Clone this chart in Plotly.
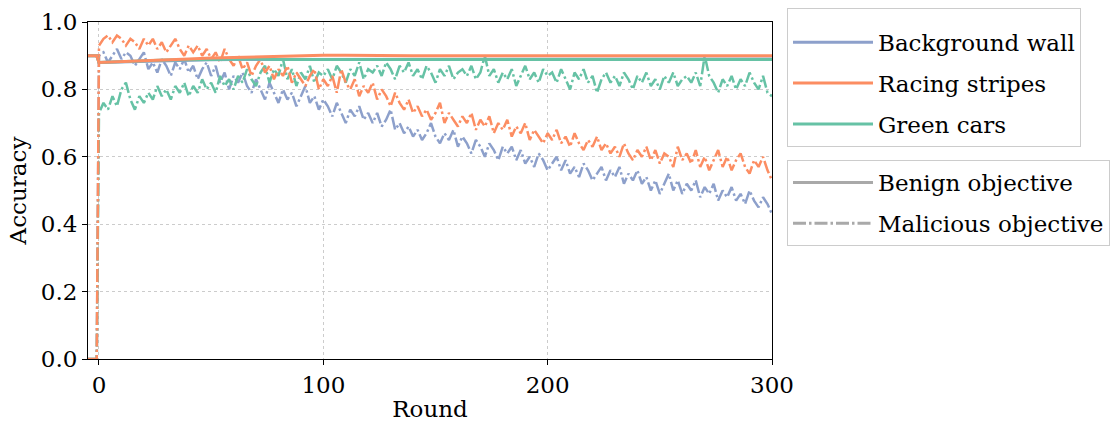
import plotly.graph_objects as go

# Rounds of the attack (malicious metric sampled every 2 rounds, preceded by pre-attack rounds)
pre_rounds = [-5, -1]
mal_rounds = list(range(0, 301, 2))
benign_rounds = [-5, -1, 0] + list(range(10, 301, 10))

# Malicious objective accuracy per attack
mal_background_wall = [
    0.90, 0.91, 0.88, 0.90, 0.92, 0.89, 0.91, 0.90, 0.87, 0.89, 0.91,
    0.86, 0.88, 0.85, 0.89, 0.87, 0.84, 0.88, 0.86, 0.89, 0.85,
    0.87, 0.83, 0.86, 0.88, 0.84, 0.87, 0.82, 0.85, 0.80, 0.84,
    0.82, 0.85, 0.81, 0.79, 0.83, 0.80, 0.77, 0.82, 0.79, 0.76,
    0.80, 0.77, 0.79, 0.75, 0.78, 0.81, 0.76, 0.78, 0.74, 0.77,
    0.75, 0.72, 0.76, 0.73, 0.70, 0.74, 0.72, 0.75, 0.71, 0.73,
    0.70, 0.73, 0.69, 0.71, 0.74, 0.68, 0.70, 0.67, 0.69, 0.66,
    0.68, 0.65, 0.67, 0.70, 0.66, 0.64, 0.67, 0.65, 0.68, 0.63,
    0.66, 0.64, 0.61, 0.65, 0.63, 0.60, 0.64, 0.62, 0.59, 0.63,
    0.61, 0.63, 0.59, 0.62, 0.58, 0.60, 0.57, 0.61, 0.59, 0.56,
    0.58, 0.60, 0.56, 0.59, 0.55, 0.57, 0.54, 0.58, 0.56, 0.53,
    0.55, 0.57, 0.53, 0.56, 0.54, 0.57, 0.52, 0.55, 0.53, 0.56,
    0.52, 0.54, 0.50, 0.53, 0.49, 0.52, 0.55, 0.50, 0.53, 0.49,
    0.52, 0.50, 0.53, 0.48, 0.51, 0.49, 0.52, 0.47, 0.50, 0.48,
    0.51, 0.47, 0.49, 0.46, 0.50, 0.47, 0.45, 0.48, 0.46, 0.43,
]
mal_racing_stripes = [
    0.93, 0.95, 0.96, 0.94, 0.96, 0.95, 0.93, 0.95, 0.94, 0.92, 0.95,
    0.93, 0.95, 0.92, 0.94, 0.91, 0.93, 0.95, 0.92, 0.90, 0.93,
    0.91, 0.93, 0.90, 0.92, 0.89, 0.91, 0.88, 0.92, 0.89, 0.87,
    0.90, 0.86, 0.88, 0.84, 0.87, 0.89, 0.85, 0.87, 0.83, 0.86,
    0.84, 0.87, 0.82, 0.85, 0.83, 0.81, 0.84, 0.86, 0.80, 0.83,
    0.81, 0.84, 0.79, 0.86, 0.82, 0.80, 0.83, 0.78, 0.81, 0.79,
    0.82, 0.77, 0.80, 0.78, 0.75, 0.79, 0.76, 0.74, 0.77, 0.73,
    0.75, 0.72, 0.74, 0.71, 0.73, 0.76, 0.70, 0.73, 0.71, 0.69,
    0.72, 0.70, 0.73, 0.68, 0.71, 0.69, 0.72, 0.67, 0.70, 0.68,
    0.71, 0.66, 0.69, 0.67, 0.70, 0.65, 0.68, 0.66, 0.64, 0.67,
    0.65, 0.68, 0.64, 0.66, 0.63, 0.67, 0.64, 0.62, 0.65, 0.63,
    0.66, 0.62, 0.64, 0.61, 0.63, 0.60, 0.64, 0.61, 0.59, 0.62,
    0.60, 0.63, 0.59, 0.62, 0.58, 0.61, 0.60, 0.57, 0.63, 0.59,
    0.61, 0.58, 0.62, 0.57, 0.60, 0.56, 0.59, 0.62, 0.57, 0.60,
    0.56, 0.59, 0.61, 0.57, 0.55, 0.59, 0.57, 0.60, 0.56, 0.53,
]
mal_green_cars = [
    0.73, 0.76, 0.74, 0.78, 0.75, 0.80, 0.82, 0.77, 0.74, 0.78, 0.76,
    0.79, 0.77, 0.81, 0.78, 0.80, 0.77, 0.81, 0.79, 0.82, 0.78,
    0.81, 0.79, 0.83, 0.80, 0.82, 0.79, 0.84, 0.81, 0.83, 0.80,
    0.84, 0.82, 0.86, 0.83, 0.81, 0.85, 0.87, 0.82, 0.86, 0.84,
    0.89, 0.83, 0.86, 0.81, 0.85, 0.83, 0.87, 0.82, 0.85, 0.84,
    0.86, 0.83, 0.87, 0.85, 0.82, 0.86, 0.84, 0.88, 0.83, 0.86,
    0.85, 0.87, 0.84, 0.88, 0.86, 0.83, 0.87, 0.85, 0.88, 0.84,
    0.86, 0.83, 0.87, 0.85, 0.82, 0.86, 0.84, 0.87, 0.83, 0.85,
    0.86, 0.84, 0.87, 0.83, 0.85, 0.90, 0.84, 0.86, 0.82, 0.85,
    0.83, 0.86, 0.81, 0.84, 0.87, 0.83, 0.85, 0.82, 0.86, 0.84,
    0.85, 0.82, 0.86, 0.83, 0.80, 0.85, 0.83, 0.86, 0.82, 0.84,
    0.79, 0.83, 0.85, 0.82, 0.84, 0.81, 0.85, 0.83, 0.80, 0.84,
    0.82, 0.85, 0.81, 0.83, 0.80, 0.84, 0.82, 0.85, 0.81, 0.83,
    0.84, 0.82, 0.85, 0.81, 0.90, 0.84, 0.82, 0.79, 0.83, 0.81,
    0.84, 0.80, 0.83, 0.81, 0.85, 0.82, 0.80, 0.84, 0.79, 0.78,
]
mal_pre_attack = [0.0, 0.0]

# Benign objective accuracy per attack
benign_background_wall = [0.90, 0.90, 0.880, 0.882, 0.884, 0.886, 0.887, 0.888, 0.889, 0.889,
                          0.890, 0.890, 0.890, 0.890, 0.890, 0.890, 0.890, 0.890, 0.890, 0.890,
                          0.890, 0.890, 0.890, 0.890, 0.890, 0.890, 0.890, 0.890, 0.890, 0.890,
                          0.890, 0.890, 0.890]
benign_racing_stripes = [0.90, 0.90, 0.880, 0.882, 0.885, 0.888, 0.890, 0.893, 0.895, 0.897,
                         0.899, 0.900, 0.901, 0.901, 0.900, 0.900, 0.900, 0.900, 0.900, 0.900,
                         0.900, 0.900, 0.900, 0.900, 0.900, 0.900, 0.900, 0.900, 0.900, 0.900,
                         0.900, 0.900, 0.900]
benign_green_cars = [0.90, 0.90, 0.880, 0.883, 0.886, 0.887, 0.888, 0.889, 0.890, 0.890,
                     0.889, 0.889, 0.889, 0.889, 0.889, 0.889, 0.889, 0.889, 0.889, 0.889,
                     0.889, 0.889, 0.889, 0.889, 0.889, 0.889, 0.889, 0.889, 0.889, 0.889,
                     0.889, 0.889, 0.889]

attack_names = ["Background wall", "Racing stripes", "Green cars"]
colors = ["#8da0cb", "#fc8d62", "#66c2a5"]
mal_series = [mal_background_wall, mal_racing_stripes, mal_green_cars]
benign_series = [benign_background_wall, benign_racing_stripes, benign_green_cars]

FONT = "DejaVu Serif"
FS = 23
DASHDOT = "13px,3px,2.5px,3px"
W, H = 1113, 423

fig = go.Figure()

# Malicious curves (dash-dot), drawn under the benign curves; orange last so it sits on top
for i in [0, 2, 1]:
    fig.add_trace(go.Scatter(
        x=pre_rounds + mal_rounds, y=mal_pre_attack + mal_series[i], mode="lines",
        line=dict(color=colors[i], width=2.5, dash=DASHDOT), showlegend=False, hoverinfo="skip"))

# Benign curves (solid)
for i in [0, 2, 1]:
    fig.add_trace(go.Scatter(
        x=benign_rounds, y=benign_series[i], mode="lines",
        line=dict(color=colors[i], width=3), showlegend=False, hoverinfo="skip"))

# Legend entries: attack colours
for name, color in zip(attack_names, colors):
    fig.add_trace(go.Scatter(x=[None], y=[None], mode="lines", name=name, legendgroup=name,
                             line=dict(color=color, width=3), legend="legend"))

# Legend entries: objective line styles
fig.add_trace(go.Scatter(x=[None], y=[None], mode="lines", name="Benign objective",
                         legendgroup="benign", line=dict(color="#a9a9a9", width=3),
                         legend="legend2"))
fig.add_trace(go.Scatter(x=[None], y=[None], mode="lines", name="Malicious objective",
                         legendgroup="malicious", line=dict(color="#a9a9a9", width=3, dash=DASHDOT),
                         legend="legend2"))

axis_common = dict(
    showline=True, mirror=True, linecolor="black", linewidth=1,
    ticks="outside", ticklen=5, tickwidth=1, tickcolor="black",
    showgrid=True, gridcolor="#cccccc", griddash="dot", gridwidth=1,
    zeroline=False, automargin=False,
    tickfont=dict(family=FONT, size=FS, color="black"),
)

legend_common = dict(
    xref="container", yref="container", x=787 / W,
    xanchor="left", yanchor="top", bgcolor="white", bordercolor="#cccccc", borderwidth=1,
    font=dict(family=FONT, size=FS, color="black"), tracegroupgap=8, itemwidth=80,
    groupclick="toggleitem",
)

fig.update_layout(
    width=W, height=H,
    margin=dict(l=88, r=341, t=22, b=64),
    paper_bgcolor="white", plot_bgcolor="white",
    font=dict(family=FONT, size=FS, color="black"),
    xaxis=dict(range=[-4.9, 300], tickvals=[0, 100, 200, 300],
               title=dict(text="Round", font=dict(family=FONT, size=FS), standoff=4),
               **axis_common),
    yaxis=dict(range=[0, 1], tickvals=[0, 0.2, 0.4, 0.6, 0.8, 1.0], tickformat=".1f",
               title=dict(text="Accuracy", font=dict(family=FONT, size=FS), standoff=7),
               **axis_common),
    legend=dict(y=1 - 8 / H, title=dict(text=" ", font=dict(family=FONT, size=9)),
                **legend_common),
    legend2=dict(y=1 - 160 / H, **legend_common),
)

fig.write_html("out.html")
